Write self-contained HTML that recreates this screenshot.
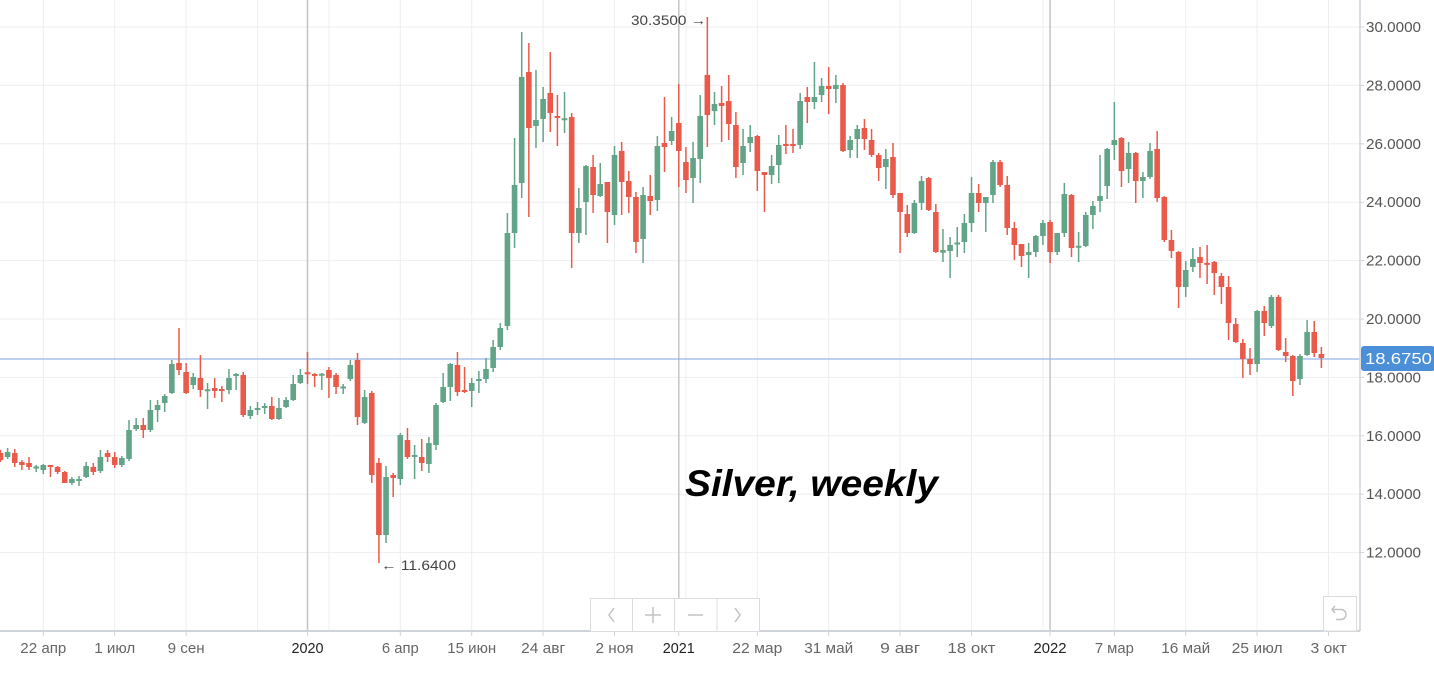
<!DOCTYPE html>
<html><head><meta charset="utf-8">
<style>
html,body{margin:0;padding:0;background:#fff;}
svg{display:block;font-family:"Liberation Sans","DejaVu Sans",sans-serif;}
</style></head>
<body>
<svg id="s" width="1434" height="674" viewBox="0 0 1434 674" xmlns="http://www.w3.org/2000/svg">
<defs><clipPath id="pc"><rect x="0" y="0" width="1359" height="631"/></clipPath></defs>
<rect x="0" y="0" width="1434" height="674" fill="#ffffff"/>
<g id="grid" stroke="#eceef1" stroke-width="1"></g>
<g id="years" stroke="#c4c4c4" stroke-width="1.5"></g>
<line x1="0" y1="359" x2="1360" y2="359" stroke="#94b8e6" stroke-width="1.2"/>
<g id="c" clip-path="url(#pc)"></g>
<line x1="0" y1="631" x2="1360" y2="631" stroke="#cfd3da" stroke-width="2"/>
<line x1="1360" y1="0" x2="1360" y2="631" stroke="#cfd3da" stroke-width="1.5"/>
<g id="ticks" stroke="#cfd3da" stroke-width="1"></g>
<g id="ylab" font-size="15" fill="#555"></g>
<g id="xlab" font-size="15" fill="#666" text-anchor="middle"></g>
<rect x="1361" y="346" width="74" height="25" rx="3" fill="#4a8fd8"/>
<text x="1365" y="364" font-size="16" fill="#ffffff" textLength="67" lengthAdjust="spacingAndGlyphs">18.6750</text>
<text x="706" y="25" font-size="14" fill="#444" text-anchor="end" textLength="75" lengthAdjust="spacingAndGlyphs">30.3500 →</text>
<text x="381" y="570" font-size="14" fill="#444" textLength="75" lengthAdjust="spacingAndGlyphs">← 11.6400</text>
<text x="685" y="496" font-size="37" font-weight="bold" font-style="italic" fill="#000" textLength="253" lengthAdjust="spacingAndGlyphs">Silver, weekly</text>
<g stroke="#dcdcdc" stroke-width="1" fill="#fff">
<rect x="590.5" y="598.5" width="169" height="33"/>
<line x1="632.5" y1="598.5" x2="632.5" y2="631"/>
<line x1="674.5" y1="598.5" x2="674.5" y2="631"/>
<line x1="717" y1="598.5" x2="717" y2="631"/>
<rect x="1323.5" y="596.5" width="33" height="34.5"/>
</g>
<g stroke="#c2c2c2" stroke-width="1.5" fill="none">
<path d="M614 608 L609 615 L614 622"/>
<path d="M653 607 V623 M645 615 H661"/>
<path d="M688 615 H703"/>
<path d="M735 608 L740 615 L735 622"/>
<path d="M1335 606 L1332 609.5 L1335 613 M1332.5 609.5 H1341 A5 5 0 0 1 1341 619.5 H1336"/>
</g>
</svg>
<script>
(function(){
var NS="http://www.w3.org/2000/svg";
function el(p,t,a){var e=document.createElementNS(NS,t);for(var k in a)e.setAttribute(k,a[k]);p.appendChild(e);return e;}
function X(w){return 307.5+w*7.14;}
var grid=document.getElementById('grid'),years=document.getElementById('years'),ticks=document.getElementById('ticks');
var ylab=document.getElementById('ylab'),xlab=document.getElementById('xlab');
for(var v=30;v>=12;v-=2){var y=27+(30-v)*29.2;
 el(grid,'line',{x1:0,y1:y,x2:1360,y2:y});
 el(ticks,'line',{x1:1360,y1:y,x2:1364,y2:y});
 var t=el(ylab,'text',{x:1366,y:y+5,textLength:55,lengthAdjust:'spacingAndGlyphs'});t.textContent=v.toFixed(4);}
var gw=[-37,-27,-17,-7,3,13,23,33,43,53,63,73,83,93,103,113,123,133,143];
gw.forEach(function(w){var x=X(w);el(grid,'line',{x1:x,y1:0,x2:x,y2:631});});
[0,52,104].forEach(function(w){var x=X(w);el(years,'line',{x1:x,y1:0,x2:x,y2:631});});
var L=[[-37,'22 апр',46],[-27,'1 июл',41],[-17,'9 сен',37],[0,'2020',32,1],[13,'6 апр',37],[23,'15 июн',49],[33,'24 авг',44],[43,'2 ноя',38],[52,'2021',32,1],[63,'22 мар',50],[73,'31 май',49],[83,'9 авг',40],[93,'18 окт',48],[104,'2022',33,1],[113,'7 мар',39],[123,'16 май',49],[133,'25 июл',51],[143,'3 окт',36]];
L.forEach(function(l){var x=X(l[0]);el(ticks,'line',{x1:x,y1:631,x2:x,y2:636});
 var t=el(xlab,'text',{x:x,y:653,textLength:l[2],lengthAdjust:'spacingAndGlyphs'});if(l[3])t.setAttribute('fill','#222');t.textContent=l[1];});
var D=[
[-43,'r',453,460,450,462],[-42,'g',452,457,448,459],[-41,'r',453,463,449,467],[-40,'r',462,465,460,470],[-39,'r',463,467,457,470],
[-38,'g',467,468,465,472],[-37,'g',465,470,464,474],[-36,'r',465.5,466.5,465,477],[-35,'r',467,472,466,474],[-34,'r',472,483,471,483],
[-33,'g',479,483,477,485],[-32,'g',479,481,476,486],[-31,'g',466,477,462,478],[-30,'r',467,472,463,475],[-29,'g',457,471,450,473],
[-28,'r',453,457,450,462],[-27,'r',457,465,452,468],[-26,'g',458,465,456,467],[-25,'g',430,459,420,461],[-24,'g',425,429,418,431],
[-23,'r',425,430,418,438],[-22,'g',410,430,400,432],[-21,'g',405,410,400,422],[-20,'g',396,403,394,412],[-19,'g',364,393,360,394],
[-18,'r',363,370,328,375],[-17,'r',372,393,363,394],[-16,'g',377,385,373,389],[-15,'r',378,390,355,397],[-14,'g',389.5,391,383,409],
[-13,'r',388,391,378,398],[-12,'r',389,391,386,402],[-11,'g',378,390,369,394],[-10,'g',374,376,373,390],[-9,'r',375,415,372,417],
[-8,'g',410,416,406,419],[-7,'g',408,410,402,415],[-6,'g',406,408,403,414],[-5,'r',406,419,397,420],[-4,'g',408,419,398,420],
[-3,'g',400,407,397,408],[-2,'g',384,400,375,401],[-1,'g',375,383,369,384],[0,'r',372.5,374,352,384],[1,'r',374,376,373,387],
[2,'g',374,375.5,373,390],[3,'r',370,378,367,398],[4,'r',375,387,373,394],[5,'g',386.5,388.5,384,394],[6,'g',365,379,360,381],
[7,'r',360,417,353,425],[8,'g',397,423,390,424],[9,'r',393,475,391,483],[10,'r',463,535,458,563],[11,'g',477,535,466,543],
[12,'r',475,478,473,497],[13,'g',435,479,433,485],[14,'r',440,457,428,459],[15,'g',455,457,445,479],[16,'r',457,463,439,471],
[17,'g',443,464,437,473],[18,'g',405,445,403,450],[19,'g',387,402,373,403],[20,'g',364,387,363,401],[21,'r',365,392,352,396],
[22,'r',390,392,367,393],[23,'g',383,391,378,407],[24,'g',379,381,371,393],[25,'g',369,379,358,383],[26,'g',347,368,340,372],
[27,'g',328,347,323,350],[28,'g',233,326,213,330],[29,'g',185,233,138,248],[30,'g',77,183,32,198],[31,'r',72,128,43,217],
[32,'g',120,126,70,148],[33,'g',99,119,87,142],[34,'r',93,113,52,132],[35,'r',116,118,95,146],[36,'g',118.5,120,92,133],
[37,'r',117,233,113,268],[38,'g',208,233,188,243],[39,'g',166,202,165,235],[40,'r',167,195,155,213],[41,'g',184,196,163,197],
[42,'r',182,212,182,243],[43,'g',155,215,146,225],[44,'r',151,182,142,215],[45,'r',181,197,171,213],[46,'r',197,242,192,253],
[47,'g',195,239,187,263],[48,'r',196,201,175,215],[49,'g',146,200,136,211],[50,'r',143,147,97,172],[51,'g',131,141,117,145],
[52,'r',123,151,84,187],[53,'r',162,180,147,193],[54,'g',158,178,142,203],[55,'g',116,159,95,183],[56,'r',75,115,17,147],
[57,'g',104,111,92,125],[58,'r',103,106,86,142],[59,'r',101,124,75,140],[60,'r',125,167,112,178],[61,'g',146,163,129,175],
[62,'g',137,143,125,152],[63,'r',136,171,135,191],[64,'r',172,175,172,212],[65,'g',166,175,155,184],[66,'g',145,165,135,183],
[67,'r',144.3,145.7,125,154],[68,'r',144.3,145.7,129,153],[69,'g',101,145,93,149],[70,'r',97,102,87,123],[71,'g',97,102,62,109],
[72,'g',86,95,78,102],[73,'r',86,89,67,114],[74,'g',85,89,75,103],[75,'r',85,151,83,152],[76,'g',140,150,136,158],
[77,'g',129,139,125,158],[78,'r',128,139,119,150],[79,'r',140,155,129,157],[80,'r',155,168,153,181],[81,'g',159,167,149,189],
[82,'r',157,195,143,198],[83,'r',193,212,193,253],[84,'r',214,233,205,237],[85,'g',203,233,200,234],[86,'g',181,203,176,210],
[87,'r',178,210,177,211],[88,'r',212,252,204,253],[89,'g',250,252.7,229,262],[90,'g',245,251,237,278],[91,'g',242.7,244.3,227,257],
[92,'g',223,242,214,253],[93,'g',193,223,177,232],[94,'r',193,203,184,212],[95,'g',197,203,197,232],[96,'g',162,195,160,203],
[97,'r',162,185,160,187],[98,'r',185,228,176,235],[99,'r',228,245,222,260],[100,'r',244,256,244,267],[101,'g',252,255,243,278],
[102,'g',236,252,235,257],[103,'g',223,236,220,245],[104,'r',222,252,220,263],[105,'g',233,252,233,255],[106,'g',194,233,183,237],
[107,'r',195,248,194,257],[108,'g',246,247.5,232,262],[109,'g',215,246,212,247],[110,'g',206,215,201,229],[111,'g',196,201,155,212],
[112,'g',149,186,148,199],[113,'g',140,145,102,160],[114,'r',138,171,137,187],[115,'g',153,169,142,183],[116,'r',153,181,152,203],
[117,'g',177,181,172,198],[118,'g',151,177,143,179],[119,'r',149,198,131,202],[120,'r',197,240,196,242],[121,'r',240,251,230,258],
[122,'r',252,287,251,308],[123,'g',270,287,261,297],[124,'g',259,267,248,272],[125,'r',257,263,247,278],[126,'r',263,264.7,245,284],
[127,'r',262,273,261,295],[128,'r',276,287,273,304],[129,'r',287,323,276,340],[130,'r',324,342,318,343],[131,'r',343,359,339,378],
[132,'r',359,364,348,375],[133,'g',311,364,310,372],[134,'r',311,323,306,336],[135,'g',297,326,295,328],[136,'r',297,350,295,351],
[137,'r',352,356,338,362],[138,'r',356,381,355,396],[139,'g',356,379,354,385],[140,'g',332,355,320,356],[141,'r',332,353,321,357],
[142,'r',354,358,347,368]
];
var cg=document.getElementById('c');
D.forEach(function(d){var x=X(d[0]);var col=d[1]=='g'?'#62a487':'#ea5a4b';
 el(cg,'rect',{x:x-0.75,y:d[4],width:1.5,height:Math.max(1,d[5]-d[4]),fill:col});
 var h=d[3]-d[2];if(h<2){var m=(d[2]+d[3])/2;d[2]=m-1;h=2;}
 el(cg,'rect',{x:x-2.8,y:d[2],width:5.6,height:h,fill:col});});
})();
</script>
</body></html>
